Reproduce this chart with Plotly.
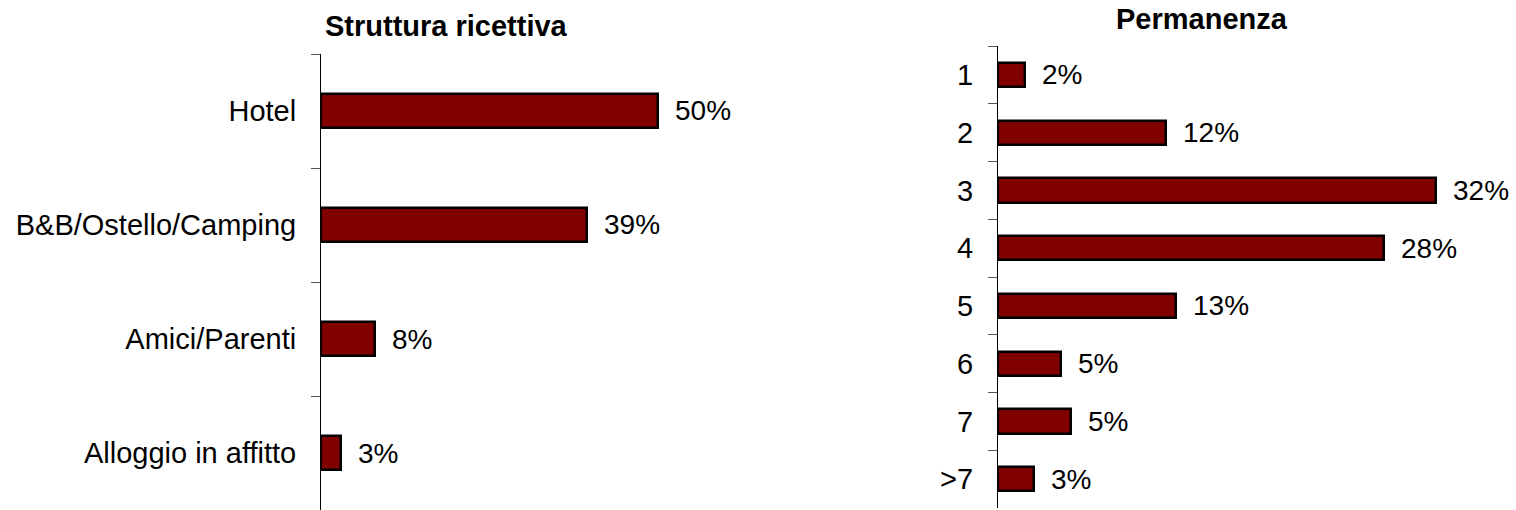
import plotly.graph_objects as go

# Struttura ricettiva (share of respondents, %)
strutture = ["Hotel", "B&B/Ostello/Camping", "Amici/Parenti", "Alloggio in affitto"]
quota_strutture = [50, 39.4, 8, 3]

# Permanenza (number of nights, share %)
notti = ["1", "2", "3", "4", "5", "6", "7", ">7"]
quota_notti = [2.0, 12.3, 32.0, 28.2, 13.0, 4.6, 5.3, 2.6]

W, H = 1516, 510
BAR = "#800000"
FONT = "Liberation Sans, Arial, sans-serif"

fig = go.Figure()

fig.add_trace(go.Bar(
    x=quota_strutture, y=strutture, orientation="h",
    marker=dict(color=BAR, line=dict(color="black", width=2.5)),
    width=0.3, xaxis="x", yaxis="y", showlegend=False,
    hoverinfo="x+y",
))
fig.add_trace(go.Bar(
    x=quota_notti, y=notti, orientation="h",
    marker=dict(color=BAR, line=dict(color="black", width=2.5)),
    width=0.42, xaxis="x2", yaxis="y2", showlegend=False,
    hoverinfo="x+y",
))

# value labels just to the right of each bar (y given as category index)
annotations = []
for i, v in enumerate(quota_strutture):
    annotations.append(dict(x=v, y=i, xref="x", yref="y", text=f"{v:.0f}%",
                            showarrow=False, xanchor="left", yanchor="middle",
                            xshift=15, font=dict(size=28, color="black", family=FONT)))
for i, v in enumerate(quota_notti):
    annotations.append(dict(x=v, y=i, xref="x2", yref="y2", text=f"{v:.0f}%",
                            showarrow=False, xanchor="left", yanchor="middle",
                            xshift=15, font=dict(size=28, color="black", family=FONT)))

# panel titles
annotations.append(dict(x=446 / W, y=1 - 26 / H, xref="paper", yref="paper",
                        text="<b>Struttura ricettiva</b>", showarrow=False,
                        xanchor="center", yanchor="middle",
                        font=dict(size=29, color="black", family=FONT)))
annotations.append(dict(x=1202 / W, y=1 - 19 / H, xref="paper", yref="paper",
                        text="<b>Permanenza</b>", showarrow=False,
                        xanchor="center", yanchor="middle",
                        font=dict(size=29, color="black", family=FONT)))

left_px = 6.74   # pixels per percent, left panel
right_px = 13.69  # pixels per percent, right panel
x1_dom = (321, 720)
x2_dom = (998, 1440)

yaxis_common = dict(
    type="category", autorange="reversed", showline=True, linecolor="black",
    linewidth=1, ticks="outside", ticklen=9, tickcolor="#555", tickwidth=1,
    tickson="boundaries", showgrid=False, zeroline=False,
    tickfont=dict(size=29, color="black", family=FONT), ticklabelstandoff=18,
)

fig.update_layout(
    width=W, height=H,
    margin=dict(l=0, r=0, t=0, b=0),
    paper_bgcolor="white", plot_bgcolor="white",
    bargap=0,
    xaxis=dict(domain=[x1_dom[0] / W, x1_dom[1] / W],
               range=[0, (x1_dom[1] - x1_dom[0]) / left_px],
               visible=False, anchor="y"),
    yaxis=dict(domain=[0, 1 - 54 / H], anchor="x", **yaxis_common),
    xaxis2=dict(domain=[x2_dom[0] / W, x2_dom[1] / W],
                range=[0, (x2_dom[1] - x2_dom[0]) / right_px],
                visible=False, anchor="y2"),
    yaxis2=dict(domain=[1 - 508 / H, 1 - 46 / H], anchor="x2", **yaxis_common),
    annotations=annotations,
    font=dict(family=FONT, color="black"),
)

fig.write_html("out.html")
